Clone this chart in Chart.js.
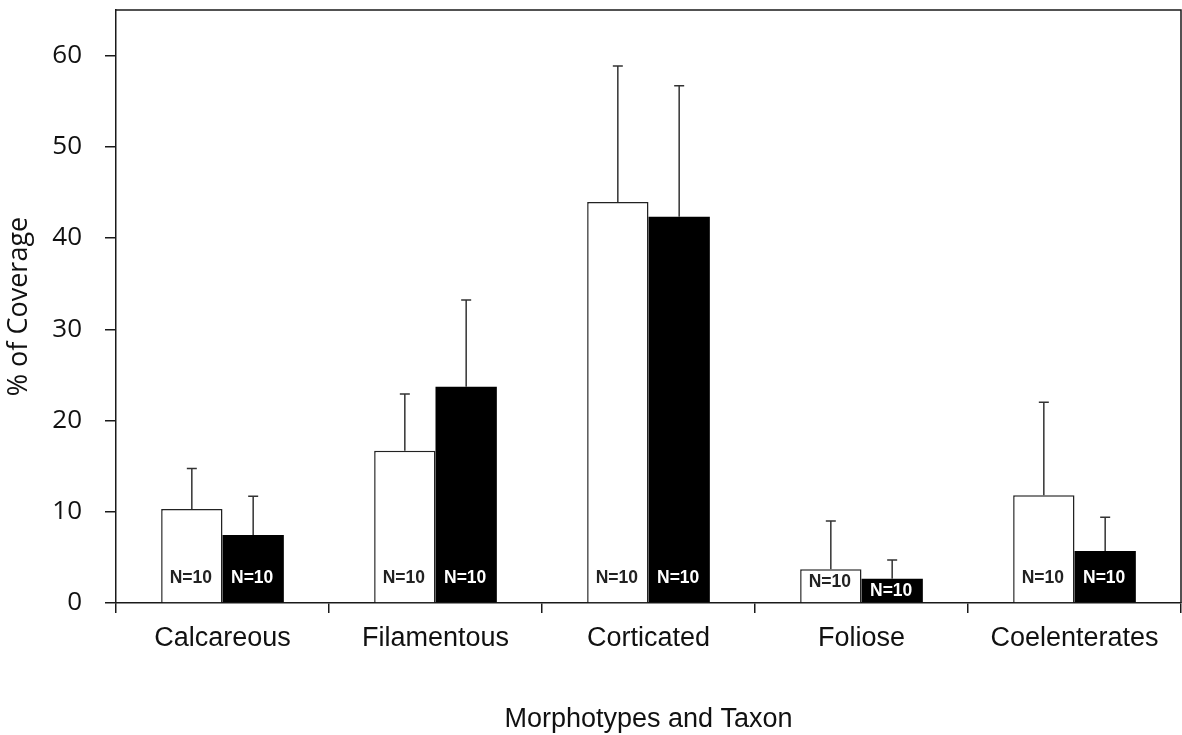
<!DOCTYPE html>
<html>
<head>
<meta charset="utf-8">
<script src="https://cdn.jsdelivr.net/npm/chart.js@4.4.1/dist/chart.umd.min.js"></script>
<style>
html,body{margin:0;padding:0;background:#fff;}
#wrap{width:1182px;height:735px;position:relative;}
</style>
</head>
<body>
<div id="wrap"><canvas id="c" width="1182" height="735"></canvas></div>
<script>
const categories = ['Calcareous', 'Filamentous', 'Corticated', 'Foliose', 'Coelenterates'];
const whiteMeans = [10.3, 16.7, 43.95, 3.7, 11.8];
const whiteErrors = [4.45, 6.2, 14.9, 5.3, 10.2];
const blackMeans = [7.45, 23.7, 42.35, 2.65, 5.7];
const blackErrors = [4.25, 9.5, 14.35, 2.05, 3.7];
const whiteN = ['N=10', 'N=10', 'N=10', 'N=10', 'N=10'];
const blackN = ['N=10', 'N=10', 'N=10', 'N=10', 'N=10'];
const yTicks = [0, 10, 20, 30, 40, 50, 60];
const yMax = 65;
const errorsByDataset = [whiteErrors, blackErrors];
const labelsByDataset = [whiteN, blackN];

const ink = '#1a1a1a';

const extrasPlugin = {
  id: 'extras',
  afterDatasetsDraw(chart) {
    const ctx = chart.ctx;
    const ys = chart.scales.y;
    const ca = chart.chartArea;
    ctx.save();
    chart.data.datasets.forEach((ds, di) => {
      const meta = chart.getDatasetMeta(di);
      meta.data.forEach((bar, i) => {
        const top = ys.getPixelForValue(ds.data[i] + errorsByDataset[di][i]);
        ctx.strokeStyle = '#333';
        ctx.lineWidth = 1.5;
        ctx.beginPath();
        ctx.moveTo(bar.x, bar.y);
        ctx.lineTo(bar.x, top);
        ctx.moveTo(bar.x - 5, top);
        ctx.lineTo(bar.x + 5, top);
        ctx.stroke();
      });
    });
    ctx.font = 'bold 17.5px "Liberation Sans", Arial, sans-serif';
    ctx.textAlign = 'center';
    ctx.textBaseline = 'middle';
    chart.data.datasets.forEach((ds, di) => {
      const meta = chart.getDatasetMeta(di);
      meta.data.forEach((bar, i) => {
        const y = Math.max(ys.getPixelForValue(2.74), bar.y + 12.5);
        ctx.fillStyle = di === 0 ? '#222' : '#fff';
        ctx.fillText(labelsByDataset[di][i], bar.x - 1, y);
      });
    });
    ctx.strokeStyle = ink;
    ctx.lineWidth = 1.5;
    ctx.beginPath();
    ctx.moveTo(ca.left, ca.top);
    ctx.lineTo(ca.right, ca.top);
    ctx.lineTo(ca.right, ca.bottom);
    ctx.stroke();
    ctx.restore();
  }
};

function zeroPad(s) { s.paddingTop = 0; s.paddingBottom = 0; s.paddingLeft = 0; s.paddingRight = 0; }

new Chart(document.getElementById('c'), {
  type: 'bar',
  data: {
    labels: categories,
    datasets: [
      { data: whiteMeans, backgroundColor: '#ffffff', borderColor: '#222', borderWidth: 1.5, borderSkipped: 'bottom' },
      { data: blackMeans, backgroundColor: '#000000', borderColor: '#000', borderWidth: 0 }
    ]
  },
  options: {
    responsive: false,
    animation: false,
    devicePixelRatio: 1,
    layout: { padding: { top: 10, right: 1, left: 0, bottom: 0 } },
    plugins: { legend: { display: false }, tooltip: { enabled: false } },
    datasets: { bar: { categoryPercentage: 0.576, barPercentage: 1.0 } },
    scales: {
      x: {
        afterFit(s) { s.height = 132; zeroPad(s); },
        grid: { display: true, drawOnChartArea: false, drawTicks: true, tickLength: 10, color: ink, lineWidth: 1.5, offset: true },
        border: { display: true, color: ink, width: 1.5 },
        ticks: { color: '#111', padding: 9, font: { family: '"Liberation Sans", Arial, sans-serif', size: 27 } },
        title: { display: true, text: 'Morphotypes and Taxon', color: '#111', padding: { top: 0, bottom: -1 }, font: { family: '"Liberation Sans", Arial, sans-serif', size: 27 } }
      },
      y: {
        min: 0,
        max: yMax,
        afterFit(s) { s.width = 116; zeroPad(s); },
        afterBuildTicks(s) { s.ticks = yTicks.map(v => ({ value: v })); },
        grid: { display: true, drawOnChartArea: false, drawTicks: true, tickLength: 11, color: ink, lineWidth: 1.5 },
        border: { display: true, color: ink, width: 1.5 },
        ticks: { color: '#111', padding: 23, font: { family: '"Open Sans", "Noto Sans", sans-serif', size: 26 } },
        title: { display: true, text: '% of Coverage', color: '#111', padding: { top: 3, bottom: 0 }, font: { family: '"Open Sans", "Noto Sans", sans-serif', size: 27 } }
      }
    }
  },
  plugins: [extrasPlugin]
});
</script>
</body>
</html>
